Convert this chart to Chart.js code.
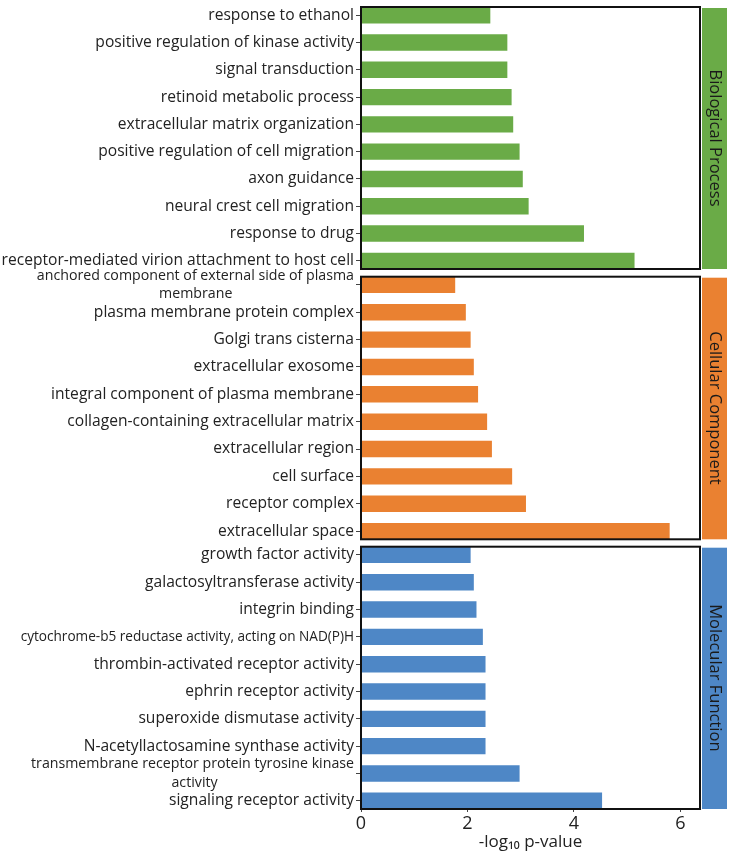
<!DOCTYPE html>
<html>
<head>
<meta charset="utf-8">
<script src="https://cdn.jsdelivr.net/npm/chart.js@4.4.1/dist/chart.umd.min.js"></script>
<style>
  body { margin: 0; background: #fff; }
  #wrap { position: relative; width: 750px; height: 852px; }
  .panel { position: absolute; left: 0; width: 750px; }
</style>
</head>
<body>
<div id="wrap">
  <div class="panel" style="top:0;height:290px"><canvas id="bp"></canvas></div>
  <div class="panel" style="top:250px;height:310px"><canvas id="cc"></canvas></div>
  <div class="panel" style="top:520px;height:332px"><canvas id="mf"></canvas></div>
</div>
<script>
// GO terms, top to bottom as drawn
const bpLabels = [
  'response to ethanol',
  'positive regulation of kinase activity',
  'signal transduction',
  'retinoid metabolic process',
  'extracellular matrix organization',
  'positive regulation of cell migration',
  'axon guidance',
  'neural crest cell migration',
  'response to drug',
  'receptor-mediated virion attachment to host cell'
];
const bpValues = [2.43, 2.75, 2.75, 2.83, 2.86, 2.98, 3.04, 3.15, 4.19, 5.14];

const ccLabels = [
  ['anchored component of external side of plasma', 'membrane'],
  'plasma membrane protein complex',
  'Golgi trans cisterna',
  'extracellular exosome',
  'integral component of plasma membrane',
  'collagen-containing extracellular matrix',
  'extracellular region',
  'cell surface',
  'receptor complex',
  'extracellular space'
];
const ccValues = [1.77, 1.97, 2.06, 2.12, 2.20, 2.37, 2.46, 2.84, 3.10, 5.80];

const mfLabels = [
  'growth factor activity',
  'galactosyltransferase activity',
  'integrin binding',
  'cytochrome-b5 reductase activity, acting on NAD(P)H',
  'thrombin-activated receptor activity',
  'ephrin receptor activity',
  'superoxide dismutase activity',
  'N-acetyllactosamine synthase activity',
  ['transmembrane receptor protein tyrosine kinase', 'activity'],
  'signaling receptor activity'
];
const mfValues = [2.06, 2.12, 2.17, 2.29, 2.34, 2.34, 2.34, 2.34, 2.98, 4.53];

const panelNames = ['Biological Process', 'Cellular Component', 'Molecular Function'];
const xTitle = '-log\u2081\u2080 p-value';
const xMax = 6.37;

const FONT = "'Open Sans', sans-serif";
const colors = ['#6aab47', '#ea8131', '#4e87c6'];

function labelSize(label) {
  if (Array.isArray(label)) return 14.2;
  return label.length > 50 ? 13.6 : 15.6;
}

// pad the short line of two-line labels so it sits centred under the first
const meas = document.createElement('canvas').getContext('2d');
function centreLines(labels) {
  return labels.map(l => {
    if (!Array.isArray(l)) return l;
    meas.font = labelSize(l) + 'px ' + FONT;
    const w0 = meas.measureText(l[0]).width;
    return l.map(s => {
      let t = s;
      while (meas.measureText(t + ' ').width <= (w0 + meas.measureText(s).width) / 2) t += ' ';
      return t;
    });
  });
}

const framePlugin = {
  id: 'frame',
  afterDraw(chart, args, opts) {
    const a = chart.chartArea;
    const ctx = chart.ctx;
    ctx.save();
    // facet strip
    ctx.fillStyle = opts.color;
    ctx.fillRect(a.right + 2, a.top + 1, 25, a.bottom - a.top - 1);
    ctx.translate(a.right + 14.5, (a.top + a.bottom) / 2);
    ctx.rotate(Math.PI / 2);
    ctx.fillStyle = '#1a1a1a';
    ctx.font = '16.5px ' + FONT;
    ctx.textAlign = 'center';
    ctx.textBaseline = 'middle';
    ctx.fillText(opts.name, 0, 0);
    ctx.restore();
    // panel border
    ctx.save();
    ctx.strokeStyle = '#111';
    ctx.lineWidth = 2;
    ctx.strokeRect(a.left, a.top, a.right - a.left, a.bottom - a.top);
    ctx.restore();
  }
};

function makePanel(id, labels, values, idx, pad) {
  const shown = centreLines(labels);
  const n = labels.length;
  const showX = idx === 2;
  return new Chart(document.getElementById(id), {
    type: 'bar',
    data: {
      datasets: [{
        data: values.map((v, i) => ({ x: v, y: i })),
        backgroundColor: colors[idx],
        barPercentage: 0.6,
        categoryPercentage: 1
      }]
    },
    options: {
      indexAxis: 'y',
      responsive: true,
      maintainAspectRatio: false,
      animation: false,
      layout: { padding: { top: pad[0], bottom: pad[1], left: 0, right: 50 } },
      plugins: {
        legend: { display: false },
        tooltip: { enabled: false },
        frame: { color: colors[idx], name: panelNames[idx] }
      },
      scales: {
        y: {
          type: 'linear',
          reverse: true,
          offset: false,
          min: -0.3,
          max: n - 1 + 0.3,
          afterFit(s) { s.width = 361; s.paddingTop = 0; s.paddingBottom = 0; },
          border: { display: false },
          grid: { offset: false, drawOnChartArea: false, drawTicks: true, tickLength: 5, color: '#444' },
          ticks: {
            stepSize: 1,
            includeBounds: false,
            autoSkip: false,
            padding: 2,
            color: '#222',
            font: ctx => ({ family: FONT, size: labelSize(labels[ctx.tick ? ctx.tick.value : 0] || ''), lineHeight: 1.3 }),
            callback: v => shown[v] !== undefined ? shown[v] : ''
          }
        },
        x: {
          type: 'linear',
          min: 0,
          max: xMax,
          display: showX,
          afterFit(s) { if (showX) { s.height = 43; s.paddingLeft = 0; s.paddingRight = 0; } },
          border: { display: false },
          grid: { drawOnChartArea: false, drawTicks: true, tickLength: 3, color: '#444' },
          ticks: {
            stepSize: 2,
            includeBounds: false,
            padding: 1,
            color: '#222',
            font: { family: FONT, size: 18 }
          },
          title: {
            display: true,
            text: xTitle,
            color: '#222',
            font: { family: FONT, size: 17 },
            padding: 0
          }
        }
      }
    },
    plugins: [framePlugin]
  });
}

document.fonts.load('16px "Open Sans"').then(() => {
  makePanel('bp', bpLabels, bpValues, 0, [7, 21]);
  makePanel('cc', ccLabels, ccValues, 1, [26.7, 20.7]);
  makePanel('mf', mfLabels, mfValues, 2, [26.7, 0]);
});
</script>
</body>
</html>
